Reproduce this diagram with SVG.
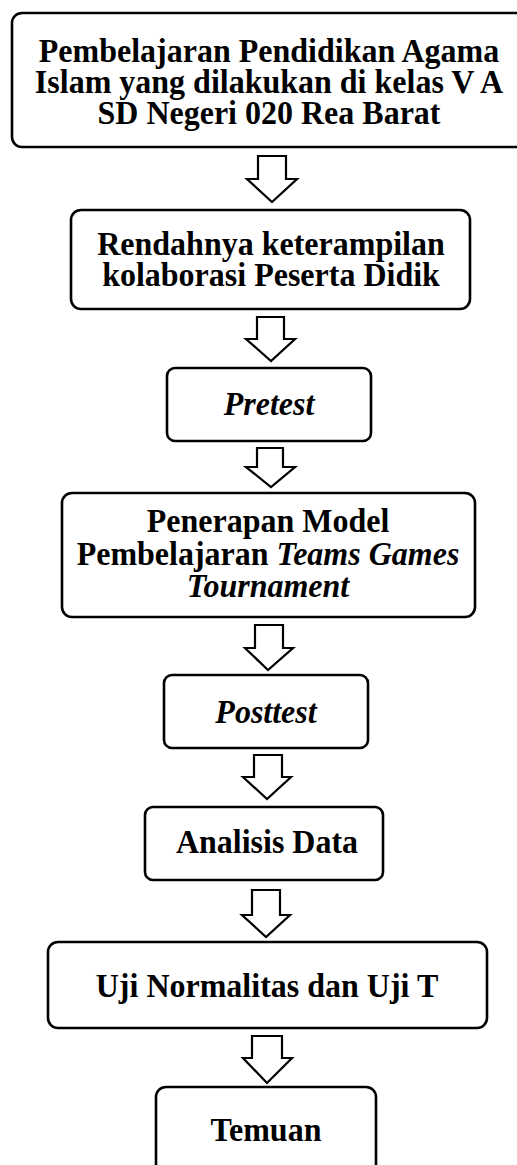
<svg xmlns="http://www.w3.org/2000/svg" width="517" height="1165" viewBox="0 0 517 1165">
<style>
.box{fill:#fff;stroke:#000;stroke-width:2.6}
.arr{fill:#fff;stroke:#000;stroke-width:2.2;stroke-linejoin:miter}
.t{font-family:"Liberation Serif","Times New Roman",serif;font-weight:bold;font-size:32px;text-anchor:middle;fill:#000}
.i{font-style:italic}
</style>
<rect width="517" height="1165" fill="#fff"/>
<g id="connectors">
<path class="arr" d="M258,156 H286 V179 H297 L272,202 L247,179 H258 Z"/>
<path class="arr" d="M257,317 H284 V339 H295 L271,361 L246,339 H257 Z"/>
<path class="arr" d="M257,448 H283 V467 H295 L271,487 L246,467 H257 Z"/>
<path class="arr" d="M255,625 H283 V648 H293 L268,670 L245,648 H255 Z"/>
<path class="arr" d="M254,755 H282 V777 H291 L267,799 L243,777 H254 Z"/>
<path class="arr" d="M252,890 H280 V915 H290 L266,937 L242,915 H252 Z"/>
<path class="arr" d="M252,1036 H282 V1058 H292 L267,1083 L243,1058 H252 Z"/>
</g>
<g id="n1">
<rect class="box" x="12" y="13" width="520" height="134" rx="10"/>
<text class="t" transform="translate(269,62) scale(1,1.06)">Pembelajaran Pendidikan Agama</text>
<text class="t" transform="translate(269,93) scale(1,1.06)">Islam yang dilakukan di kelas V A</text>
<text class="t" transform="translate(269,124) scale(1,1.06)">SD Negeri 020 Rea Barat</text>
</g>
<g id="n2">
<rect class="box" x="71" y="210" width="399" height="99" rx="10"/>
<text class="t" transform="translate(271,255) scale(1,1.06)">Rendahnya keterampilan</text>
<text class="t" transform="translate(271,286) scale(1,1.06)">kolaborasi Peserta Didik</text>
</g>
<g id="n3">
<rect class="box" x="167" y="368" width="204" height="73" rx="8"/>
<text class="t i" transform="translate(269,415) scale(1,1.06)">Pretest</text>
</g>
<g id="n4">
<rect class="box" x="62" y="493" width="413" height="124" rx="10"/>
<text class="t" transform="translate(268,532) scale(1,1.06)">Penerapan Model</text>
<text class="t" transform="translate(268,565) scale(1,1.06)">Pembelajaran <tspan class="i">Teams Games</tspan></text>
<text class="t i" transform="translate(268,597) scale(1,1.06)">Tournament</text>
</g>
<g id="n5">
<rect class="box" x="164" y="675" width="204" height="73" rx="8"/>
<text class="t i" transform="translate(266,723) scale(1,1.06)">Posttest</text>
</g>
<g id="n6">
<rect class="box" x="145" y="807" width="238" height="73" rx="8"/>
<text class="t" transform="translate(267,853) scale(1,1.06)">Analisis Data</text>
</g>
<g id="n7">
<rect class="box" x="48" y="942" width="439" height="86" rx="10"/>
<text class="t" transform="translate(267,997) scale(1,1.06)">Uji Normalitas dan Uji T</text>
</g>
<g id="n8">
<rect class="box" x="156" y="1087" width="220" height="100" rx="10"/>
<text class="t" transform="translate(266,1141) scale(1,1.06)">Temuan</text>
</g>
</svg>
